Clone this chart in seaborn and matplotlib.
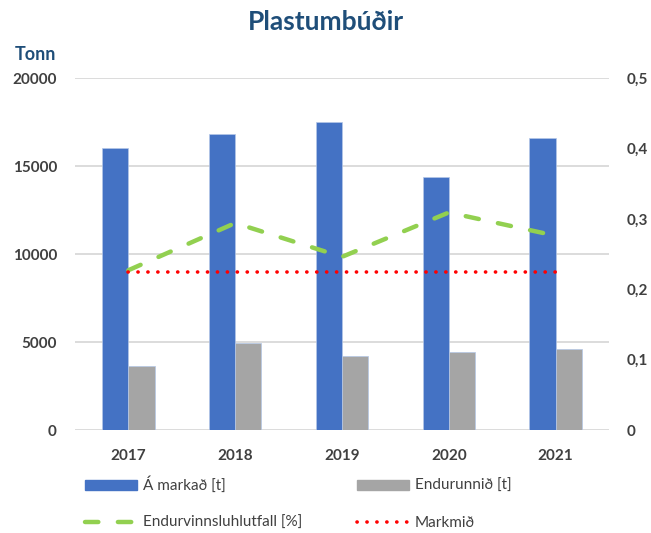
import numpy as np
import pandas as pd
import matplotlib
matplotlib.use('Agg')
import matplotlib.pyplot as plt
import seaborn as sns

# data
years = ['2017', '2018', '2019', '2020', '2021']
a_markad = [16050, 16800, 17500, 14400, 16600]      # tonnes put on market
endurunnid = [3640, 4960, 4200, 4450, 4600]         # tonnes recycled
hlutfall = [0.227, 0.294, 0.246, 0.309, 0.276]      # recycling rate
markmid = [0.225, 0.225, 0.225, 0.225, 0.225]       # target

sns.set_theme(style='white')
plt.rcParams['font.family'] = ['Lato', 'DejaVu Sans']

txt = '#404040'
navy = '#1F4E79'

bars = pd.DataFrame({
    'year': years * 2,
    'tonn': a_markad + endurunnid,
    'series': ['Á markað [t]'] * 5 + ['Endurunnið [t]'] * 5,
})

fig = plt.figure(figsize=(6.51, 5.33), dpi=100)
ax = fig.add_axes([0.1152, 0.1932, 0.8203, 0.6604])

sns.barplot(data=bars, x='year', y='tonn', hue='series',
            palette=['#4472C4', '#A5A5A5'], width=0.49, saturation=1,
            edgecolor='#B4C7E7', linewidth=0.5, ax=ax, legend=False)
ax.set_ylim(0, 20000)
ax.set_yticks([0, 5000, 10000, 15000, 20000])
ax.set_xlim(-0.5, 4.5)
ax.yaxis.grid(True, color='#D9D9D9', linewidth=1.3)
ax.set_axisbelow(True)
ax.set_xlabel('')
ax.set_ylabel('')
for s in ax.spines.values():
    s.set_visible(False)
ax.tick_params(axis='y', length=0, pad=13, labelsize=11, labelcolor=txt)
ax.tick_params(axis='x', length=0, pad=14, labelsize=11, labelcolor=txt)
for lab in ax.get_xticklabels() + ax.get_yticklabels():
    lab.set_fontweight('bold')

ax2 = ax.twinx()
pos = np.arange(len(years))
sns.lineplot(x=pos, y=hlutfall, ax=ax2, color='#92D050', linewidth=3.2,
             dashes=False, label='Endurvinnsluhlutfall [%]', legend=False)
sns.lineplot(x=pos, y=markmid, ax=ax2, color='#FF0000', linewidth=2.6,
             dashes=False, label='Markmið', legend=False)
ax2.lines[0].set_dashes((3.0, 4.4))
ax2.lines[0].set_dash_capstyle('round')
ax2.lines[1].set_dashes((0.05, 2.7))
ax2.lines[1].set_dash_capstyle('round')
ax2.set_ylim(0, 0.5)
ax2.set_yticks([0, 0.1, 0.2, 0.3, 0.4, 0.5])
ax2.set_yticklabels(['0', '0,1', '0,2', '0,3', '0,4', '0,5'])
ax2.set_xlim(-0.5, 4.5)
ax2.grid(False)
for s in ax2.spines.values():
    s.set_visible(False)
ax2.tick_params(axis='y', length=0, pad=13, labelsize=11, labelcolor=txt)
for lab in ax2.get_yticklabels():
    lab.set_fontweight('bold')

fig.text(0.5, 0.958, 'Plastumbúðir', ha='center', va='center',
         fontsize=19, fontweight='bold', color=navy)
fig.text(0.054, 0.897, 'Tonn', ha='center', va='center',
         fontsize=13, fontweight='bold', color=navy)

# legend, row-major order for 2 columns
h1 = plt.Rectangle((0, 0), 1, 1, color='#4472C4')
h2 = plt.Rectangle((0, 0), 1, 1, color='#A5A5A5')
handles = [h1, ax2.lines[0], h2, ax2.lines[1]]
labels = ['Á markað [t]', 'Endurvinnsluhlutfall [%]', 'Endurunnið [t]', 'Markmið']
leg = fig.legend(handles, labels, loc='upper left', bbox_to_anchor=(0.131, 0.106),
                 ncol=2, frameon=False, fontsize=11, handlelength=3.4,
                 handleheight=0.6, handletextpad=0.4, labelspacing=1.5,
                 columnspacing=3.55, labelcolor=txt, borderaxespad=0,
                 borderpad=0)

fig.savefig('out.png', dpi=100)
